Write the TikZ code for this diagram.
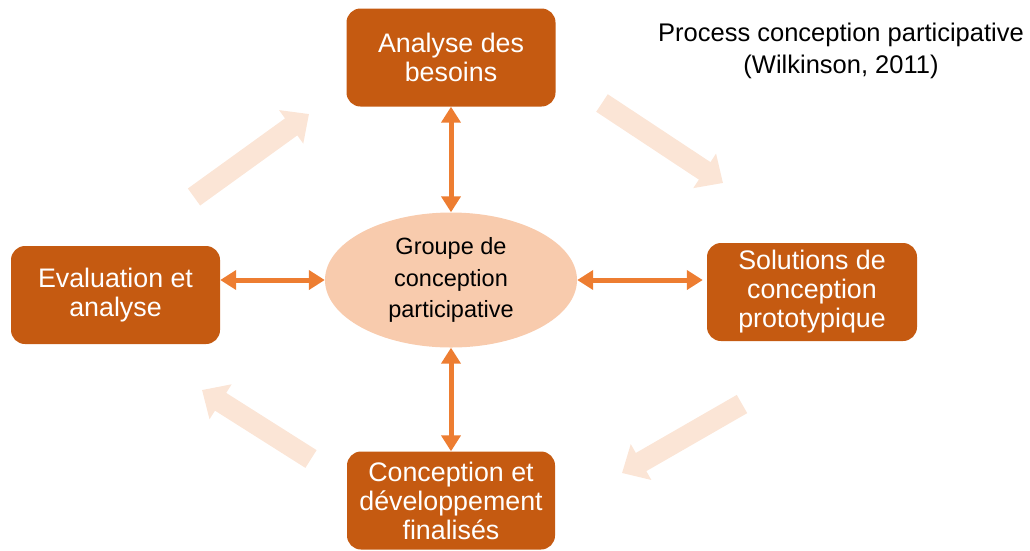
\documentclass[tikz,border=0pt]{standalone}
\usepackage{fontspec}
\setmainfont{Liberation Sans}
\usetikzlibrary{arrows.meta,shapes.geometric}
\definecolor{boxc}{HTML}{C55A11}
\definecolor{arrc}{HTML}{ED7D31}
\definecolor{ellc}{HTML}{F8CBAD}
\definecolor{fadec}{HTML}{FBE5D6}
\begin{document}
\begin{tikzpicture}[x=1pt,y=-1pt,
  stage/.style={fill=boxc, rounded corners=14pt, text=white, align=center,
    font=\fontsize{26.8}{29}\selectfont, inner sep=0pt, minimum height=98pt},
  link/.style={arrc, line width=5pt,
    {Triangle[length=16pt,width=19pt]}-{Triangle[length=16pt,width=19pt]}},
  fade/.style={fadec, line width=21pt, -{Triangle[length=22pt,width=40pt]}}]
\useasboundingbox (0,0) rectangle (1030,550);
% faded cycle arrows
\coordinate (f1s) at (194,197); \coordinate (f1e) at (309,114);
\coordinate (f2s) at (602,103); \coordinate (f2e) at (723,183);
\coordinate (f3s) at (742,404); \coordinate (f3e) at (622,473);
\coordinate (f4s) at (311,459); \coordinate (f4e) at (202,390);
\draw[fade] (f1s) -- (f1e);
\draw[fade] (f2s) -- (f2e);
\draw[fade] (f3s) -- (f3e);
\draw[fade] (f4s) -- (f4e);
% nodes
\node[stage, minimum width=209pt] (ab) at (451,57.5) {Analyse des\\besoins};
\node[stage, minimum width=209pt] (ev) at (115.5,295) {Evaluation et\\analyse};
\node[stage, minimum width=210pt] (so) at (812,292) {Solutions de\\conception\\prototypique};
\node[stage, minimum width=208pt] (cd) at (451,500.5) {Conception et\\développement\\finalisés};
\node[ellipse, fill=ellc, minimum width=252pt, minimum height=135pt, inner sep=0pt,
  align=center, font=\fontsize{23.5}{31.5}\selectfont] (gc) at (451,280)
  {Groupe de\\conception\\participative};
\node[align=center, font=\fontsize{25.5}{32}\selectfont] (title) at (841,51)
  {Process conception participative\\(Wilkinson, 2011)};
% links
\draw[link] (ab.south) -- (gc.north);
\draw[link] (gc.south) -- (cd.north);
\draw[link] (ev.east |- gc.center) -- (gc.west);
\draw[link, shorten >=4pt] (gc.east) -- (so.west |- gc.center);
\end{tikzpicture}
\end{document}
